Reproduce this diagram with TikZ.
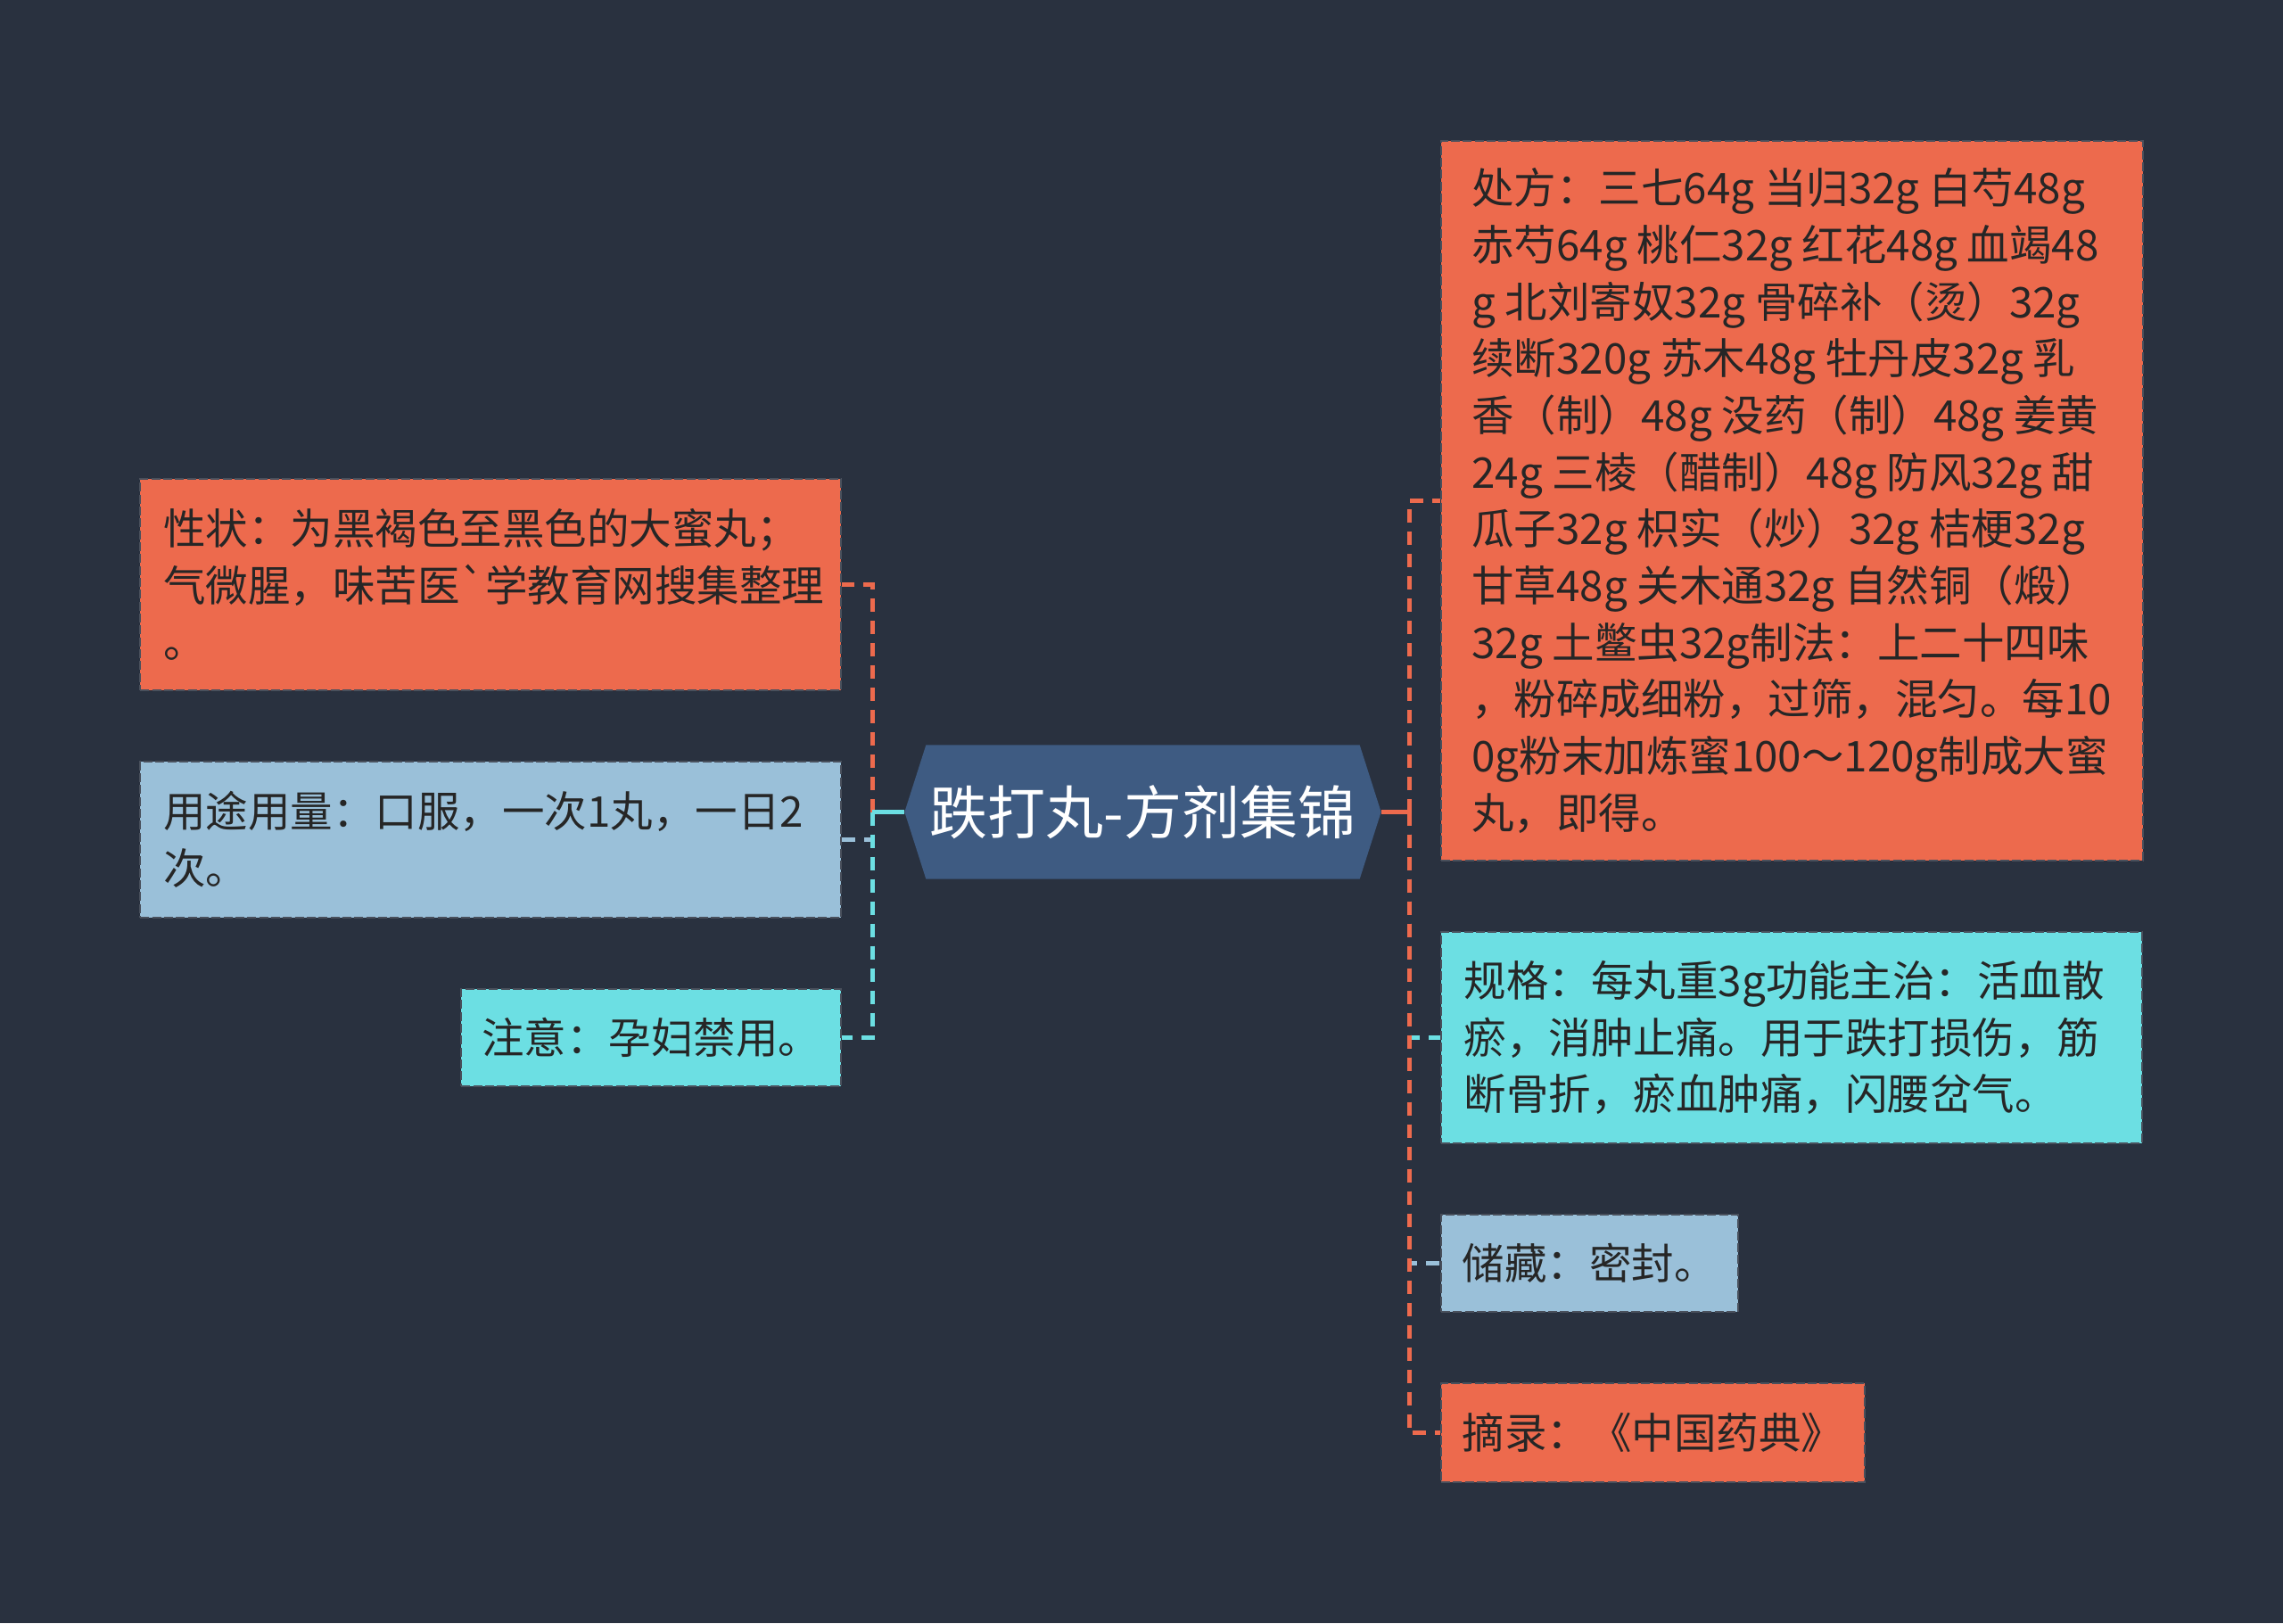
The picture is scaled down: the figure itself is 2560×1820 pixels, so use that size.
\documentclass[tikz,border=0pt]{standalone}
\usepackage{fontspec}
\newfontfamily\cjk{Noto Sans CJK SC}[Ligatures=TeXOff]
\usetikzlibrary{backgrounds}
\definecolor{mapBg}{HTML}{29313F}
\definecolor{mapRoot}{HTML}{3E5B82}
\definecolor{mapOrange}{HTML}{ED6A4D}
\definecolor{mapSky}{HTML}{9AC0D9}
\definecolor{mapCyan}{HTML}{6CDFE3}
\definecolor{mapInk}{HTML}{262626}
\tikzset{
  root/.style={font=\cjk\fontsize{19.5}{23}\selectfont, text=white,
              minimum width=145.5pt, minimum height=44.7pt, inner sep=0pt},
  leaf/.style={font=\cjk\fontsize{14.25}{19.1}\selectfont, text=mapInk,
              align=left, inner sep=0pt, line width=0.5pt, draw=mapBg!85!white,
              dash pattern=on 3pt off 1pt},
  wide/.style={text width=220.2pt, inner xsep=7.8pt},
  hot/.style={leaf, fill=mapOrange},
  cool/.style={leaf, fill=mapSky},
  aqua/.style={leaf, fill=mapCyan},
  link/.style={line width=1.5pt, dash pattern=on 4.5pt off 3pt},
  stub/.style={line width=1.3pt},
}

\begin{document}
\begin{tikzpicture}[x=0.3pt,y=-0.3pt]
  \useasboundingbox (0,0) rectangle (2560,1820);
  % centre topic
  \node[root] (root) at (1281.5,910.5) {跌打丸-方剂集锦};
  \coordinate (rootW) at ([xshift=-7.2pt]root.west);
  \coordinate (rootE) at ([xshift=7.2pt]root.east);
  \coordinate (lhub) at (978,910.5);
  \coordinate (rhub) at (1580,910.5);
  \begin{scope}[on background layer]
    \fill[mapBg] (0,0) rectangle (2560,1820);
    \fill[mapRoot] (rootW) -- (root.north west) -- (root.north east) -- (rootE)
          -- (root.south east) -- (root.south west) -- cycle;
  \end{scope}

  % left branch
  \node[hot,wide,anchor=east,minimum height=71.1pt] (xingzhuang)
        at (944,655.5) {性状：为黑褐色至黑色的大蜜丸；\\气微腥，味苦医`学教育网搜集整理\\。};
  \node[cool,wide,anchor=east,minimum height=52.5pt] (yongtu)
        at (944,941.5) {用途用量：口服，一次1丸，一日2\\次。};
  \node[aqua,anchor=east,minimum width=127.8pt,minimum height=32.7pt] (zhuyi)
        at (944,1163.5) {注意：孕妇禁用。};

  % right branch
  \node[hot,anchor=west,minimum width=236.1pt,minimum height=242.1pt] (chufang)
        at (1615,561.5) {处方：三七64g 当归32g 白芍48g\\
        赤芍64g 桃仁32g 红花48g 血竭48\\
        g 北刘寄奴32g 骨碎补（烫）32g\\
        续断320g 苏木48g 牡丹皮32g 乳\\
        香（制）48g 没药（制）48g 姜黄\\
        24g 三棱（醋制）48g 防风32g 甜\\
        瓜子32g 枳实（炒）32g 桔梗32g\\
        甘草48g 关木通32g 自然铜（煅）\\
        32g 土鳖虫32g制法：上二十四味\\
        ，粉碎成细粉，过筛，混匀。每10\\
        0g粉末加炼蜜100～120g制成大蜜\\
        丸，即得。};
  \node[aqua,wide,anchor=west,minimum height=71.1pt] (guige)
        at (1615,1163.5) {规格：每丸重3g功能主治：活血散\\瘀，消肿止痛。用于跌打损伤，筋\\断骨折，瘀血肿痛，闪腰岔气。};
  \node[cool,anchor=west,minimum width=99.9pt,minimum height=32.7pt] (chucang)
        at (1615,1416.5) {储藏：密封。};
  \node[hot,anchor=west,minimum width=142.5pt,minimum height=33.3pt] (zhailu)
        at (1615,1606.5) {摘录：《中国药典》};

  % connectors
  \draw[link,mapOrange] (lhub) |- (xingzhuang.east);
  \draw[link,mapSky] (lhub) |- (yongtu.east);
  \draw[link,mapCyan] (lhub) |- (zhuyi.east);
  \draw[stub,mapCyan] (rootW) -- (lhub);
  \draw[link,mapOrange] (rhub) |- (chufang.west);
  \draw[link,mapCyan] (rhub) |- (guige.west);
  \draw[link,mapSky] (rhub) |- (chucang.west);
  \draw[link,mapOrange] (rhub) |- (zhailu.west);
  \draw[stub,mapOrange] (rootE) -- (rhub);
\end{tikzpicture}
\end{document}
